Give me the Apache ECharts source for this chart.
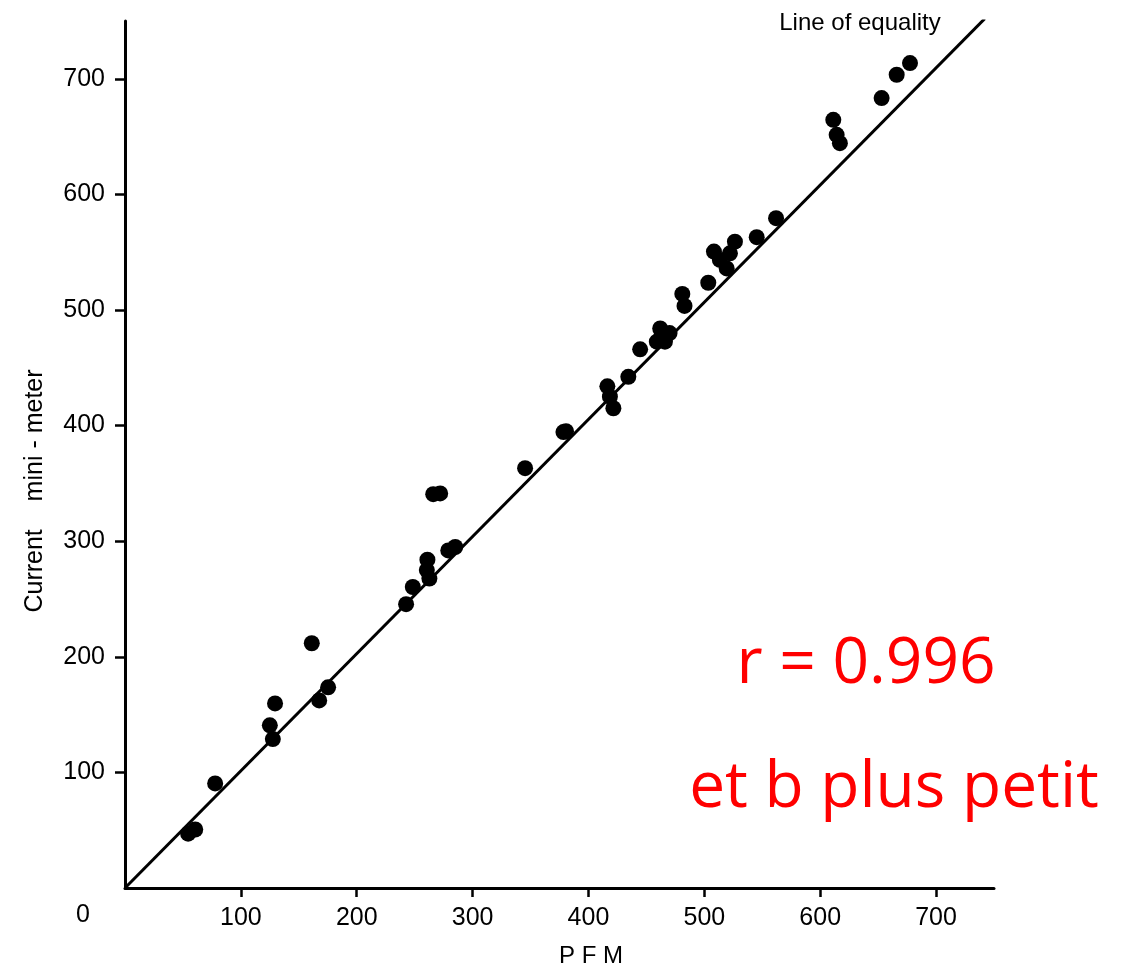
<!DOCTYPE html>
<html>
<head>
<meta charset="utf-8">
<script src="https://cdn.jsdelivr.net/npm/echarts@6/dist/echarts.min.js"></script>
<style>
html,body{margin:0;padding:0;background:#fff;}
#main{width:1135px;height:970px;}
</style>
</head>
<body>
<div id="main"></div>
<script>
// PFM vs current mini-meter readings
var pfm = [54.5,60.6,77.8,125,127.6,129.5,161.2,167.6,175.3,
	242.6,248.4,261,260.5,262.7,266,272,279,285,
	345.3,378.4,380.6,416.3,418.5,421.5,434.4,444.6,
	459,461.9,463.2,466,470,481,482.9,
	503.4,508.3,513.4,519.3,522.1,526.4,545.2,561.9,
	611.3,614.2,617,653,666,677.5];
var miniMeter = [47,50.6,90.5,140.7,128.8,159.7,211.7,162.3,173.6,
	245.5,260.4,284,275,267.7,340.7,341.3,292,295,
	363.2,394.4,395.2,434,425,415,442.2,466,
	472.6,484,478.4,472.6,480,513.9,503.5,
	523.6,550.5,543.3,536,549,559.1,563,579.4,
	664.5,651.5,644.3,683.3,703.5,713.6];
// line of equality as drawn in the scan
var equalityX = [0,742];
var equalityY = [0,752];
var xTicks = [100,200,300,400,500,600,700];
var yTicks = [100,200,300,400,500,600,700];

window.onload=function(){
	var myChart=echarts.init(document.getElementById('main'));
	var points=[];
	for(var i=0;i<pfm.length;i++){ points.push([pfm[i],miniMeter[i]]); }
	var eqLine=[];
	for(var j=0;j<equalityX.length;j++){ eqLine.push([equalityX[j],equalityY[j]]); }

	var lab={color:'#000',fontFamily:'Liberation Sans',fontSize:25};
	var option = {
		backgroundColor:'#fff',
		animation:false,
		grid:{left:125,right:141,top:21,bottom:82},
		xAxis:{
			type:'value',min:0,max:750,
			axisLine:{lineStyle:{color:'#000',width:3}},
			axisTick:{customValues:xTicks,length:9,lineStyle:{color:'#000',width:2.5}},
			axisLabel:Object.assign({customValues:xTicks,margin:18},lab),
			splitLine:{show:false}
		},
		yAxis:{
			type:'value',min:0,max:750,
			axisLine:{lineStyle:{color:'#000',width:3}},
			axisTick:{customValues:yTicks,length:10,lineStyle:{color:'#000',width:2.5}},
			axisLabel:Object.assign({customValues:yTicks,margin:20},lab),
			splitLine:{show:false}
		},
		series:[{
			type:'line',
			data:eqLine,
			symbol:'none',
			lineStyle:{color:'#000',width:3},
			z:1
		},{
			type:'scatter',
			data:points,
			symbol:'circle',
			symbolSize:16,
			itemStyle:{color:'#000',opacity:1},
			z:2
		}],
		graphic:[
			{type:'text',left:76,top:903,style:{text:'0',font:'25px "Liberation Sans"',fill:'#000'}},
			{type:'text',x:591,y:956,style:{text:'P F M',font:'24px "Liberation Sans"',fill:'#000',align:'center',verticalAlign:'middle'}},
			{type:'text',x:35,y:491,rotation:Math.PI/2,style:{text:'Current    mini - meter',font:'25px "Liberation Sans"',fill:'#000',align:'center',verticalAlign:'middle'}},
			{type:'text',x:860,y:23,style:{text:'Line of equality',font:'24px "Liberation Sans"',fill:'#000',align:'center',verticalAlign:'middle'}},
			{type:'text',x:866,y:665,style:{text:'r = 0.996',font:'64px "Open Sans"',fill:'#ff0000',align:'center',verticalAlign:'middle'}},
			{type:'text',x:894,y:789,style:{text:'et b plus petit',font:'64px "Open Sans"',fill:'#ff0000',align:'center',verticalAlign:'middle'}}
		]
	};
	myChart.setOption(option);
}
</script>
</body>
</html>
